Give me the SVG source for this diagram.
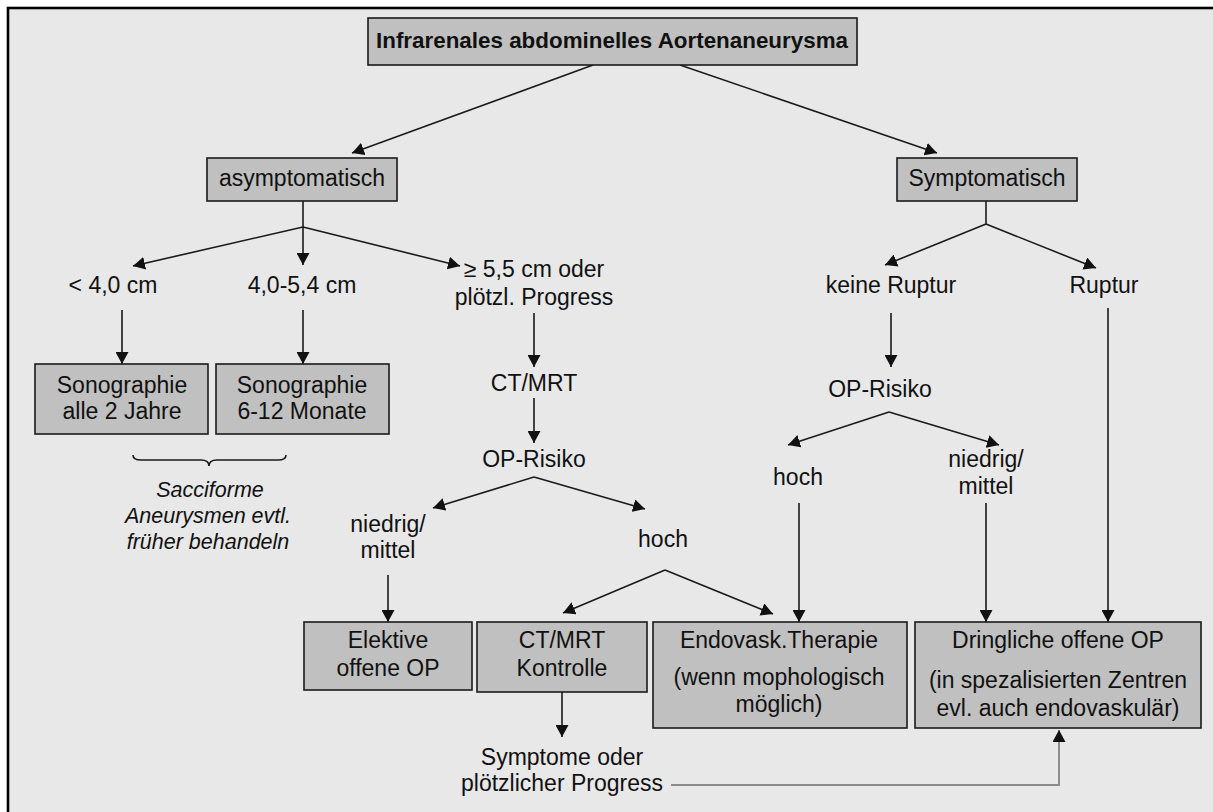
<svg xmlns="http://www.w3.org/2000/svg" width="1213" height="812" viewBox="0 0 1213 812">
<style>
  .box { fill: #c0c0c0; stroke: #1a1a1a; stroke-width: 1.6; }
  .t { font-family: "Liberation Sans", Arial, sans-serif; font-size: 23px; fill: #111; text-anchor: middle; }
  .b { font-weight: bold; font-size: 22.4px; }
  .i { font-style: italic; font-size: 21.5px; }
  .c { fill: none; stroke: #1a1a1a; stroke-width: 1.6; }
  .g { fill: none; stroke: #8c8c8c; stroke-width: 2; }
</style>
<defs>
  <marker id="ah" markerUnits="userSpaceOnUse" markerWidth="13" markerHeight="13" refX="12" refY="6.5" orient="auto">
    <path d="M0,0 L12,6.5 L0,13 z" fill="#111"/>
  </marker>
</defs>
<rect x="0" y="0" width="1213" height="812" fill="#ffffff"/>
<rect x="8" y="8" width="1220" height="820" fill="#e8e8e8" stroke="#000" stroke-width="2.6"/>

<g id="connectors">
  <line class="c" x1="593" y1="65" x2="352" y2="153" marker-end="url(#ah)"/>
  <line class="c" x1="680" y1="65" x2="937" y2="153" marker-end="url(#ah)"/>
  <line class="c" x1="303" y1="201" x2="303" y2="265" marker-end="url(#ah)"/>
  <line class="c" x1="303" y1="227" x2="133" y2="266" marker-end="url(#ah)"/>
  <line class="c" x1="303" y1="227" x2="460" y2="266" marker-end="url(#ah)"/>
  <line class="c" x1="122" y1="310" x2="122" y2="364" marker-end="url(#ah)"/>
  <line class="c" x1="303" y1="310" x2="303" y2="364" marker-end="url(#ah)"/>
  <line class="c" x1="534" y1="313" x2="534" y2="367" marker-end="url(#ah)"/>
  <line class="c" x1="534" y1="398" x2="534" y2="443" marker-end="url(#ah)"/>
  <line class="c" x1="534" y1="477" x2="433" y2="508" marker-end="url(#ah)"/>
  <line class="c" x1="534" y1="477" x2="645" y2="509" marker-end="url(#ah)"/>
  <line class="c" x1="388" y1="575" x2="388" y2="622" marker-end="url(#ah)"/>
  <line class="c" x1="665" y1="570" x2="563" y2="613" marker-end="url(#ah)"/>
  <line class="c" x1="665" y1="570" x2="773" y2="614" marker-end="url(#ah)"/>
  <line class="c" x1="562" y1="692" x2="562" y2="737" marker-end="url(#ah)"/>
  <polyline class="g" points="671,785 1059,785 1059,730" marker-end="url(#ah)"/>
  <line class="c" x1="986" y1="201" x2="986" y2="224"/>
  <line class="c" x1="986" y1="224" x2="885" y2="265" marker-end="url(#ah)"/>
  <line class="c" x1="986" y1="224" x2="1096" y2="268" marker-end="url(#ah)"/>
  <line class="c" x1="891" y1="313" x2="891" y2="367" marker-end="url(#ah)"/>
  <line class="c" x1="889" y1="412" x2="788" y2="445" marker-end="url(#ah)"/>
  <line class="c" x1="889" y1="412" x2="999" y2="445" marker-end="url(#ah)"/>
  <line class="c" x1="799" y1="503" x2="799" y2="622" marker-end="url(#ah)"/>
  <line class="c" x1="986" y1="503" x2="986" y2="622" marker-end="url(#ah)"/>
  <line class="c" x1="1108" y1="308" x2="1108" y2="622" marker-end="url(#ah)"/>
  <path class="c" stroke-width="1.2" d="M133,455 Q133,460 141,460 L201,460 Q209,460 209,466 Q209,460 217,460 L278,460 Q286,460 286,455"/>
</g>

<g id="n-top"><rect class="box" x="368" y="18" width="489" height="47"/><text class="t b" x="612" y="48">Infrarenales abdominelles Aortenaneurysma</text></g>
<g id="n-asym"><rect class="box" x="207" y="158" width="190" height="43"/><text class="t" x="302" y="186">asymptomatisch</text></g>
<g id="n-sym"><rect class="box" x="897" y="158" width="180" height="43"/><text class="t" x="987" y="186">Symptomatisch</text></g>
<g id="n-lt4"><text class="t" x="113" y="293">&lt; 4,0 cm</text></g>
<g id="n-4054"><text class="t" x="302" y="293">4,0-5,4 cm</text></g>
<g id="n-ge55"><text class="t" x="534" y="277">≥ 5,5 cm oder</text><text class="t" x="534" y="305">plötzl. Progress</text></g>
<g id="n-sono1"><rect class="box" x="35" y="364" width="173" height="70"/><text class="t" x="122" y="393">Sonographie</text><text class="t" x="122" y="419">alle 2 Jahre</text></g>
<g id="n-sono2"><rect class="box" x="216" y="364" width="173" height="70"/><text class="t" x="302" y="393">Sonographie</text><text class="t" x="302" y="419">6-12 Monate</text></g>
<g id="n-note"><text class="t i" x="210" y="497">Sacciforme</text><text class="t i" x="208" y="523">Aneurysmen evtl.</text><text class="t i" x="208" y="549">früher behandeln</text></g>
<g id="n-ctmrt"><text class="t" x="534" y="391">CT/MRT</text></g>
<g id="n-oprisk1"><text class="t" x="534" y="467">OP-Risiko</text></g>
<g id="n-nm1"><text class="t" x="388" y="532">niedrig/</text><text class="t" x="388" y="558">mittel</text></g>
<g id="n-hoch1"><text class="t" x="663" y="547">hoch</text></g>
<g id="n-elek"><rect class="box" x="304" y="622" width="168" height="68"/><text class="t" x="388" y="648">Elektive</text><text class="t" x="388" y="676">offene OP</text></g>
<g id="n-ctk"><rect class="box" x="477" y="622" width="170" height="70"/><text class="t" x="562" y="648">CT/MRT</text><text class="t" x="562" y="676">Kontrolle</text></g>
<g id="n-endo"><rect class="box" x="653" y="622" width="254" height="106"/><text class="t" x="779" y="648">Endovask.Therapie</text><text class="t" x="779" y="685">(wenn mophologisch</text><text class="t" x="779" y="712">möglich)</text></g>
<g id="n-dring"><rect class="box" x="915" y="622" width="286" height="106"/><text class="t" x="1058" y="648">Dringliche offene OP</text><text class="t" x="1058" y="688">(in spezalisierten Zentren</text><text class="t" x="1058" y="716">evl. auch endovaskulär)</text></g>
<g id="n-sympt"><text class="t" x="562" y="765">Symptome oder</text><text class="t" x="562" y="791">plötzlicher Progress</text></g>
<g id="n-keine"><text class="t" x="891" y="293">keine Ruptur</text></g>
<g id="n-ruptur"><text class="t" x="1104" y="293">Ruptur</text></g>
<g id="n-oprisk2"><text class="t" x="880" y="397">OP-Risiko</text></g>
<g id="n-hoch2"><text class="t" x="798" y="485">hoch</text></g>
<g id="n-nm2"><text class="t" x="986" y="467">niedrig/</text><text class="t" x="986" y="494">mittel</text></g>
</svg>
